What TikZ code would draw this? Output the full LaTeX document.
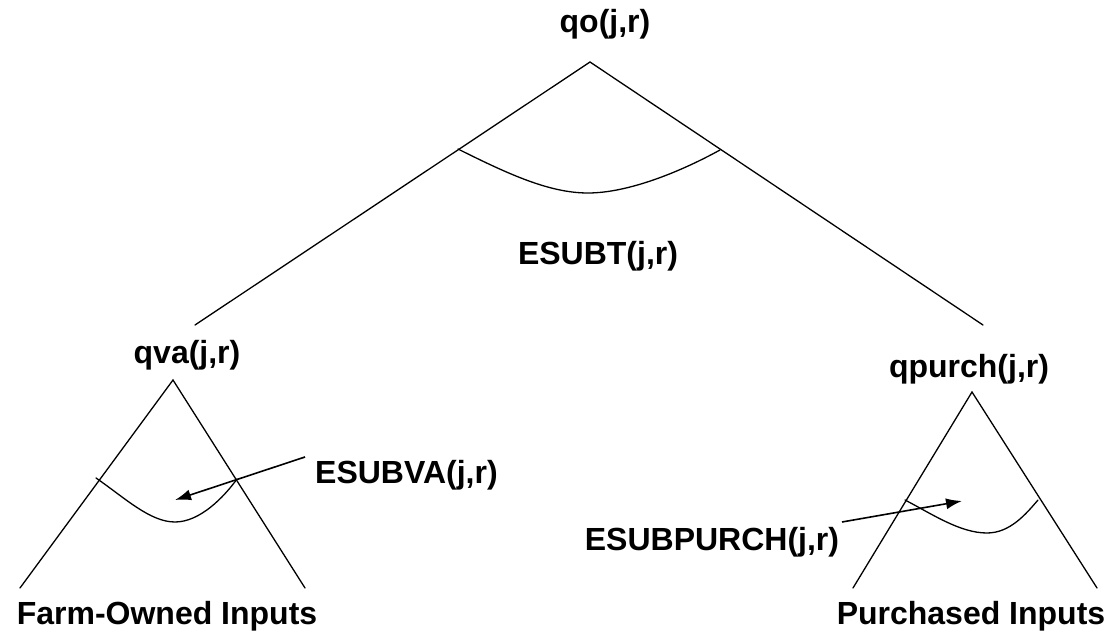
\documentclass[tikz,border=0pt]{standalone}
\usepackage{fontspec}
\setmainfont{Liberation Sans}
\usetikzlibrary{arrows.meta}
\begin{document}
\begin{tikzpicture}[x=1pt,y=-1pt,
  lbl/.style={inner sep=0pt,font=\fontsize{32}{38}\selectfont\bfseries},
  edge/.style={line width=1.3pt,line cap=round},
  pointer/.style={line width=1.6pt,-{Latex[length=16pt,width=11pt]}}]
\useasboundingbox (0,0) rectangle (1117,639);
% labels
\node[lbl,anchor=base] (qo) at (605,33) {qo(j,r)};
\node[lbl,anchor=base] (esubt) at (598,265) {ESUBT(j,r)};
\node[lbl,anchor=base] (qva) at (187,363) {qva(j,r)};
\node[lbl,anchor=base] (qpurch) at (969,377) {qpurch(j,r)};
\node[lbl,anchor=base west] (esubva) at (315,483) {ESUBVA(j,r)};
\node[lbl,anchor=base] (esubpurch) at (712,550) {ESUBPURCH(j,r)};
\node[lbl,anchor=base] (farm) at (167,624) {Farm-Owned Inputs};
\node[lbl,anchor=base] (purch) at (971,624) {Purchased Inputs};
% tree coordinates
\coordinate (topA) at (590,62);
\coordinate (topL) at (195,325);
\coordinate (topR) at (983,325);
\coordinate (vaA) at (173,380);
\coordinate (vaL) at (20,588);
\coordinate (vaR) at (305,588);
\coordinate (puA) at (972,392);
\coordinate (puL) at (853,588);
\coordinate (puR) at (1097,588);
% arc points
\coordinate (t1) at (458,149);
\coordinate (tb) at (588,193);
\coordinate (t2) at (720,150);
\coordinate (v1) at (96,478);
\coordinate (vb) at (175,522);
\coordinate (v2) at (237,479);
\coordinate (p1) at (905,500);
\coordinate (pb) at (987,533);
\coordinate (p2) at (1038,500);
% pointer ends
\coordinate (vaS) at (305,457);
\coordinate (vaT) at (175,500);
\coordinate (puS) at (842,522);
\coordinate (puT) at (962,501);
% triangles
\draw[edge] (topL) -- (topA) -- (topR);
\draw[edge] (vaL) -- (vaA) -- (vaR);
\draw[edge] (puL) -- (puA) -- (puR);
% substitution arcs
\draw[edge] (t1) .. controls (510,175) and (550,193) .. (tb)
                 .. controls (628,193) and (680,172) .. (t2);
\draw[edge] (v1) .. controls (125,498) and (150,522) .. (vb)
                 .. controls (200,522) and (224,497) .. (v2);
\draw[edge] (p1) .. controls (932,514) and (960,533) .. (pb)
                 .. controls (1010,533) and (1026,514) .. (p2);
% pointers
\draw[pointer] (vaS) -- (vaT);
\draw[pointer] (puS) -- (puT);
\end{tikzpicture}
\end{document}
